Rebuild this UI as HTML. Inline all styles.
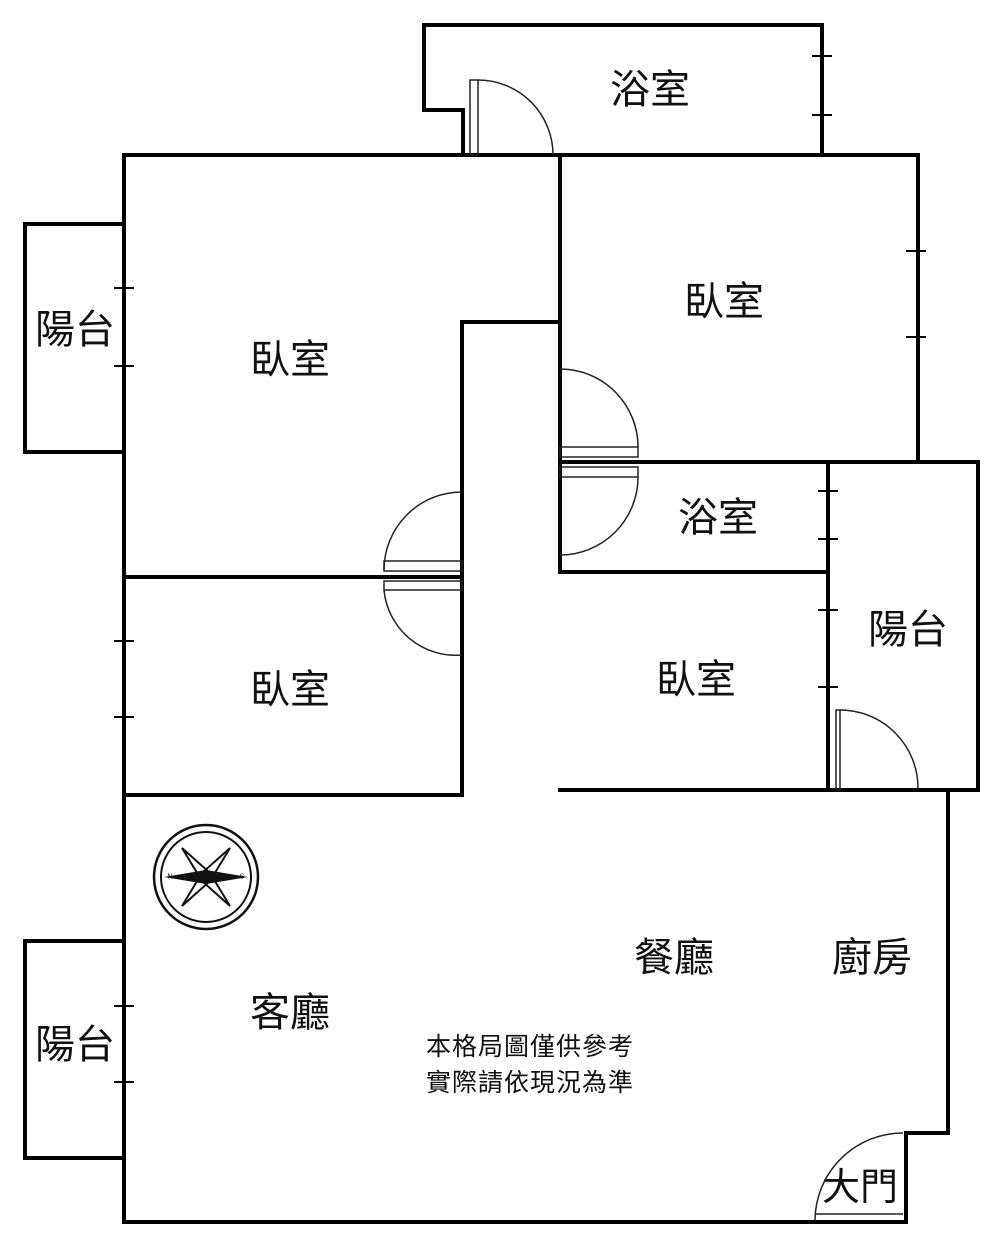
<!DOCTYPE html>
<html><head><meta charset="utf-8"><style>
body{margin:0;background:#fff}
svg{display:block}
text{font-family:"Liberation Sans","Noto Sans CJK TC",sans-serif;fill:#111;text-anchor:middle;dominant-baseline:central}
</style></head><body>
<svg width="1000" height="1251" viewBox="0 0 1000 1251" xmlns="http://www.w3.org/2000/svg">
<g stroke="#000" stroke-width="4" fill="none" stroke-linecap="square">
<polyline points="463,155 463,110 424,110 424,25 822,25 822,155"/>
<line x1="124" y1="155" x2="918" y2="155"/>
<line x1="124" y1="155" x2="124" y2="1222"/>
<line x1="124" y1="1222" x2="906" y2="1222"/>
<polyline points="906,1222 906,1133 948,1133 948,790"/>
<line x1="124" y1="577" x2="462" y2="577"/>
<line x1="124" y1="795" x2="462" y2="795"/>
<polyline points="462,795 462,322 558,322"/>
<line x1="560" y1="155" x2="560" y2="572"/>
<line x1="918" y1="155" x2="918" y2="462"/>
<line x1="560" y1="462" x2="978" y2="462"/>
<line x1="560" y1="572" x2="828" y2="572"/>
<line x1="828" y1="462" x2="828" y2="790"/>
<line x1="978" y1="462" x2="978" y2="790"/>
<line x1="560" y1="790" x2="978" y2="790"/>
<polyline points="124,224 25,224 25,452 124,452"/>
<polyline points="124,941 25,941 25,1158 124,1158"/>
</g>
<g stroke="#000" stroke-width="2" fill="none">
<line x1="114" y1="288" x2="134" y2="288"/><line x1="114" y1="366" x2="134" y2="366"/>
<line x1="114" y1="641" x2="134" y2="641"/><line x1="114" y1="717" x2="134" y2="717"/>
<line x1="114" y1="1006" x2="134" y2="1006"/><line x1="114" y1="1082" x2="134" y2="1082"/>
<line x1="812" y1="56" x2="832" y2="56"/><line x1="812" y1="115" x2="832" y2="115"/>
<line x1="906" y1="251" x2="926" y2="251"/><line x1="906" y1="337" x2="926" y2="337"/>
<line x1="818" y1="491" x2="838" y2="491"/><line x1="818" y1="539" x2="838" y2="539"/>
<line x1="818" y1="610" x2="838" y2="610"/><line x1="818" y1="687" x2="838" y2="687"/>
</g>
<g stroke="#222" stroke-width="1.5" fill="none">
<rect x="470" y="80" width="8" height="75"/>
<path d="M478,80 A75,75 0 0 1 553,155"/>
<path d="M560,369 A78,78 0 0 1 638,447"/>
<rect x="560" y="447" width="78" height="10"/>
<rect x="560" y="467" width="78" height="10"/>
<path d="M638,477 A78,78 0 0 1 560,555"/>
<path d="M462,492 A78,78 0 0 0 384,570"/>
<rect x="384" y="561" width="78" height="10"/>
<rect x="384" y="581" width="78" height="9"/>
<path d="M384,590 A72,72 0 0 0 462,655"/>
<rect x="836" y="710" width="4" height="80"/>
<path d="M840,710 A78,78 0 0 1 918,788"/>
<path d="M903,1133 A88,88 0 0 0 815,1220"/>
<line x1="815" y1="1214" x2="903" y2="1214"/>
</g>
<g stroke="#111" fill="none">
<circle cx="206" cy="877" r="52" stroke-width="2.5"/>
<circle cx="206" cy="877" r="45" stroke-width="2"/>
</g>
<g fill="#111">
<polygon points="164,877 206,870 248,877 206,884"/>
<polygon points="182,848 210,873 230,906 202,881" fill="none" stroke="#111" stroke-width="2"/>
<polygon points="230,848 210,881 182,906 202,873" fill="none" stroke="#111" stroke-width="2"/>
<text x="170" y="877" font-size="7">N</text>
<text x="242" y="877" font-size="7">S</text>
</g>
<g font-size="40">
<text x="650" y="90">浴室</text>
<text x="290" y="360">臥室</text>
<text x="724" y="302">臥室</text>
<text x="290" y="690">臥室</text>
<text x="696" y="680">臥室</text>
<text x="718" y="518">浴室</text>
<text x="75" y="330">陽台</text>
<text x="908" y="630">陽台</text>
<text x="75" y="1045">陽台</text>
<text x="674" y="958">餐廳</text>
<text x="872" y="958">廚房</text>
<text x="290" y="1013">客廳</text>
<text x="860" y="1188" font-size="38">大門</text>
</g>
<text x="530" y="1047" font-size="25" letter-spacing="1">本格局圖僅供參考</text>
<text x="530" y="1083" font-size="25" letter-spacing="1">實際請依現況為準</text>
</svg>
</body></html>
